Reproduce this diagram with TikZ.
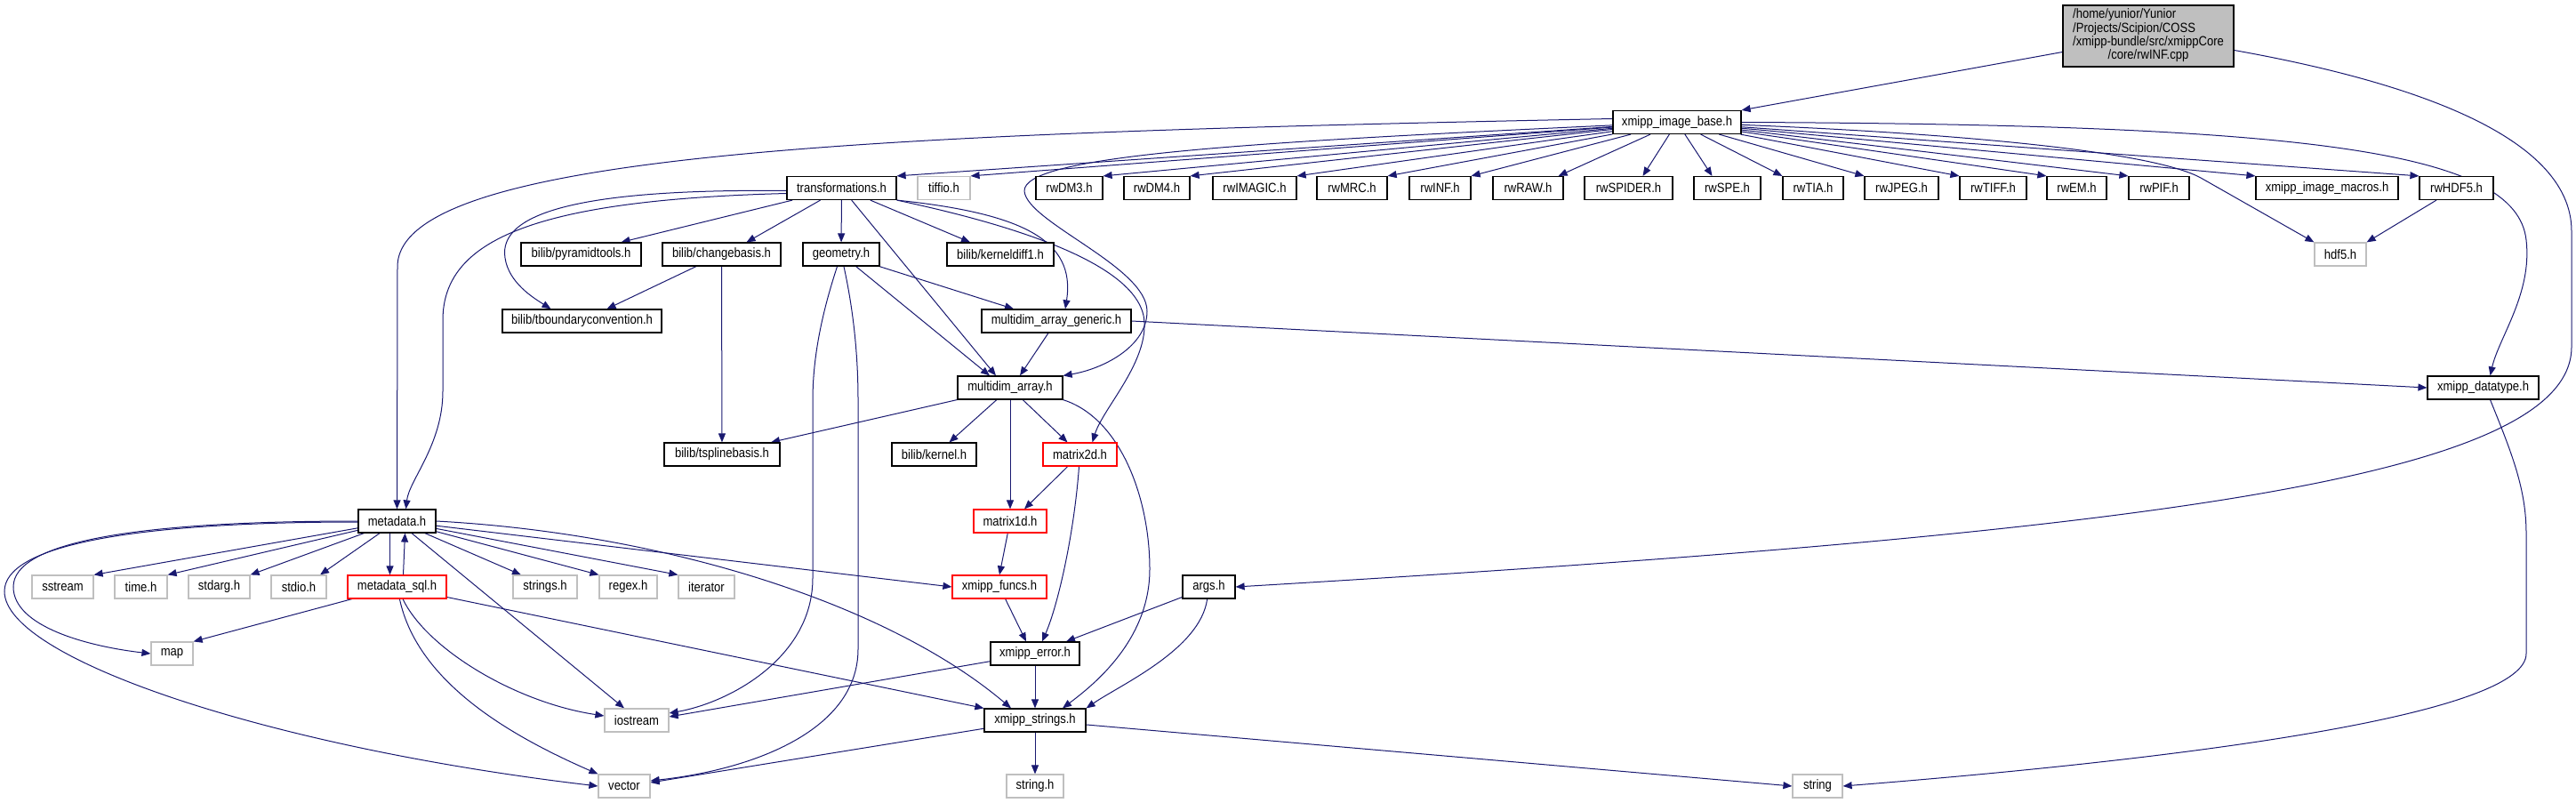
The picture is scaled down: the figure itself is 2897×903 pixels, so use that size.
\documentclass[tikz,border=0pt]{standalone}
\usepackage{fontspec}
\setmainfont{Liberation Sans}[FakeStretch=0.87]
\usetikzlibrary{arrows.meta,backgrounds}
\definecolor{edgeblue}{HTML}{191970}
\definecolor{extgray}{HTML}{BFBFBF}
\definecolor{cutred}{HTML}{FF0000}

\begin{document}
\begin{tikzpicture}[x=1bp, y=-1bp,
    hfile/.style={rectangle, draw=black, fill=white, line width=1.2bp, minimum height=26bp,
                  inner sep=1bp, font=\fontsize{15bp}{15bp}\selectfont},
    sysfile/.style={hfile, draw=extgray},
    cutfile/.style={hfile, draw=cutred},
    rootfile/.style={hfile, fill=extgray, minimum height=69bp},
    inc/.style={draw=edgeblue, line width=1bp, -{Triangle[length=10bp,width=8bp]}}
]
    \path[use as bounding box] (0,0) rectangle (2897,903);

    \node[rootfile, minimum width=192bp] (root) at (2416,40.5) {\begin{tabular}{@{}l@{}}/home/yunior/Yunior\\/Projects/Scipion/COSS\\/xmipp-bundle/src/xmippCore\\\multicolumn{1}{@{}c@{}}{/core/rwINF.cpp}\end{tabular}};
    \node[hfile, minimum width=144bp] (imgbase) at (1886,137.5) {xmipp\_image\_base.h};

    \node[hfile, minimum width=123bp] (trans) at (946.5,211.5) {transformations.h};
    \node[sysfile, minimum width=59bp] (tiffio) at (1061.5,211.5) {tiffio.h};
    \node[hfile, minimum width=75bp] (rwdm3) at (1202.5,211.5) {rwDM3.h};
    \node[hfile, minimum width=74bp] (rwdm4) at (1301,211.5) {rwDM4.h};
    \node[hfile, minimum width=94bp] (rwimagic) at (1411,211.5) {rwIMAGIC.h};
    \node[hfile, minimum width=79bp] (rwmrc) at (1520.5,211.5) {rwMRC.h};
    \node[hfile, minimum width=69bp] (rwinf) at (1619.5,211.5) {rwINF.h};
    \node[hfile, minimum width=79bp] (rwraw) at (1718.5,211.5) {rwRAW.h};
    \node[hfile, minimum width=99bp] (rwspider) at (1831.5,211.5) {rwSPIDER.h};
    \node[hfile, minimum width=75bp] (rwspe) at (1942.5,211.5) {rwSPE.h};
    \node[hfile, minimum width=68bp] (rwtia) at (2039,211.5) {rwTIA.h};
    \node[hfile, minimum width=83bp] (rwjpeg) at (2138.5,211.5) {rwJPEG.h};
    \node[hfile, minimum width=75bp] (rwtiff) at (2241.5,211.5) {rwTIFF.h};
    \node[hfile, minimum width=67bp] (rwem) at (2335.5,211.5) {rwEM.h};
    \node[hfile, minimum width=68bp] (rwpif) at (2428,211.5) {rwPIF.h};
    \node[hfile, minimum width=160bp] (macros) at (2617,211.5) {xmipp\_image\_macros.h};
    \node[hfile, minimum width=83bp] (rwhdf5) at (2762.5,211.5) {rwHDF5.h};

    \node[hfile, minimum width=135bp] (pyramid) at (653.5,286) {bilib/pyramidtools.h};
    \node[hfile, minimum width=133bp] (changebasis) at (811.5,286) {bilib/changebasis.h};
    \node[hfile, minimum width=86bp] (geometry) at (946,286) {geometry.h};
    \node[hfile, minimum width=120bp] (kerneldiff) at (1125,286) {bilib/kerneldiff1.h};
    \node[sysfile, minimum width=58bp] (hdf5) at (2632,286) {hdf5.h};

    \node[hfile, minimum width=179bp] (tboundary) at (654.5,361) {bilib/tboundaryconvention.h};
    \node[hfile, minimum width=168bp] (mdgeneric) at (1188,361) {multidim\_array\_generic.h};

    \node[hfile, minimum width=118bp] (mdarray) at (1136,436) {multidim\_array.h};
    \node[hfile, minimum width=125bp] (datatype) at (2792.5,436) {xmipp\_datatype.h};

    \node[hfile, minimum width=130bp] (tspline) at (812,511) {bilib/tsplinebasis.h};
    \node[hfile, minimum width=95bp] (kernel) at (1050.5,511) {bilib/kernel.h};
    \node[cutfile, minimum width=83bp] (matrix2d) at (1214.5,511) {matrix2d.h};

    \node[hfile, minimum width=87bp] (metadata) at (446.5,586) {metadata.h};
    \node[cutfile, minimum width=82bp] (matrix1d) at (1136,586) {matrix1d.h};

    \node[sysfile, minimum width=69bp] (sstream) at (70.5,660) {sstream};
    \node[sysfile, minimum width=59bp] (timeh) at (158.5,660) {time.h};
    \node[sysfile, minimum width=69bp] (stdarg) at (246.5,660) {stdarg.h};
    \node[sysfile, minimum width=62bp] (stdio) at (336,660) {stdio.h};
    \node[cutfile, minimum width=111bp] (mdsql) at (446.5,660) {metadata\_sql.h};
    \node[sysfile, minimum width=72bp] (strings) at (613,660) {strings.h};
    \node[sysfile, minimum width=65bp] (regex) at (706.5,660) {regex.h};
    \node[sysfile, minimum width=63bp] (iterator) at (794.5,660) {iterator};
    \node[cutfile, minimum width=106bp] (xfuncs) at (1124,660) {xmipp\_funcs.h};
    \node[hfile, minimum width=59bp] (args) at (1359.5,660) {args.h};

    \node[sysfile, minimum width=47bp] (map) at (193.5,735) {map};
    \node[hfile, minimum width=100bp] (error) at (1164,735) {xmipp\_error.h};

    \node[sysfile, minimum width=72bp] (iostream) at (716,810) {iostream};
    \node[hfile, minimum width=114bp] (xstrings) at (1164,810) {xmipp\_strings.h};

    \node[sysfile, minimum width=58bp] (vector) at (702,884) {vector};
    \node[sysfile, minimum width=64bp] (stringh) at (1164,884) {string.h};
    \node[sysfile, minimum width=56bp] (stdstring) at (2044,884) {string};

    \begin{scope}[on background layer]
    \draw[inc] ([yshift=-18bp]root.west) -- (imgbase.north east);
    \draw[inc] ([yshift=-16bp]root.east) .. controls (2700,90) and (2892,150) .. (2892,260) -- (2892,390) .. controls (2892,540) and (2400,600) .. (args.east);

    \draw[inc] ([yshift=4bp]imgbase.west) .. controls (1000,150) and (447,170) .. (447,300) -- (metadata.north);
    \draw[inc] (imgbase) -- (trans.north east);
    \draw[inc] (imgbase) -- (tiffio.north east);
    \draw[inc] (imgbase) -- (rwdm3.north east);
    \draw[inc] (imgbase) -- (rwdm4.north east);
    \draw[inc] (imgbase) -- (rwimagic.north east);
    \draw[inc] (imgbase) -- (rwmrc.north east);
    \draw[inc] (imgbase) -- (rwinf.north east);
    \draw[inc] (imgbase) -- ([xshift=-6bp]rwraw.north east);
    \draw[inc] (imgbase) -- ([xshift=16bp]rwspider.north);
    \draw[inc] (imgbase) -- ([xshift=-17bp]rwspe.north);
    \draw[inc] (imgbase) -- (rwtia.north west);
    \draw[inc] (imgbase) -- (rwjpeg.north west);
    \draw[inc] (imgbase) -- (rwtiff.north west);
    \draw[inc] (imgbase) -- (rwem.north west);
    \draw[inc] (imgbase) -- (rwpif.north west);
    \draw[inc] (imgbase) -- (macros.north west);
    \draw[inc] (imgbase) -- (rwhdf5.north west);
    \draw[inc] (imgbase) .. controls (2200,150) and (2420,170) .. (2475,200) -- (hdf5.north west);
    \draw[inc] (imgbase.east) .. controls (2600,140) and (2830,170) .. (2841,270) .. controls (2848,330) and (2810,380) .. ([xshift=8bp]datatype.north);
    \draw[inc] (imgbase) .. controls (1400,160) and (1150,175) .. (1152,215) .. controls (1155,250) and (1290,300) .. (1290,350) .. controls (1290,390) and (1240,415) .. (mdarray.north east);

    \draw[inc] ([yshift=-3bp]trans.west) .. controls (650,212) and (560,240) .. (568,290) .. controls (572,318) and (600,335) .. ([xshift=-35bp]tboundary.north);
    \draw[inc] ([yshift=-6bp]trans.west) .. controls (600,225) and (498,270) .. (498,360) -- (498,440) .. controls (498,500) and (460,540) .. ([xshift=10bp]metadata.north);
    \draw[inc] (trans) -- ([xshift=45bp]pyramid.north);
    \draw[inc] (trans) -- ([xshift=28bp]changebasis.north);
    \draw[inc] (trans) -- (geometry);
    \draw[inc] (trans) -- ([xshift=-16bp]mdarray.north);
    \draw[inc] (trans) -- ([xshift=-34bp]kerneldiff.north);
    \draw[inc] (trans.south east) .. controls (1150,240) and (1210,270) .. ([xshift=10bp]mdgeneric.north);
    \draw[inc] (trans.south east) .. controls (1150,255) and (1285,300) .. (1287,363) .. controls (1289,410) and (1240,460) .. ([xshift=14bp]matrix2d.north);

    \draw[inc] (changebasis) -- ([xshift=28bp]tboundary.north);
    \draw[inc] (changebasis) -- (tspline);
    \draw[inc] (rwhdf5) -- (hdf5.north east);

    \draw[inc] (geometry) -- ([xshift=-48bp]mdgeneric.north);
    \draw[inc] (geometry) -- ([xshift=-23bp]mdarray.north);
    \draw[inc] (geometry) .. controls (925,350) and (914,400) .. (914,450) -- (914,650) .. controls (914,740) and (820,790) .. ([yshift=8bp]iostream.east);
    \draw[inc] (geometry) .. controls (960,350) and (965,400) .. (965,450) -- (965,730) .. controls (965,820) and (850,865) .. ([yshift=6bp]vector.east);

    \draw[inc] (mdgeneric) -- ([xshift=11bp]mdarray.north);
    \draw[inc] (mdgeneric.east) -- (datatype.west);

    \draw[inc] (mdarray) -- ([xshift=55bp]tspline.north);
    \draw[inc] (mdarray) -- ([xshift=17bp]kernel.north);
    \draw[inc] (mdarray) -- (matrix1d);
    \draw[inc] (mdarray) -- ([xshift=-14bp]matrix2d.north);
    \draw[inc] (mdarray.south east) .. controls (1260,470) and (1293,560) .. (1293,640) .. controls (1293,720) and (1230,770) .. ([xshift=31bp]xstrings.north);

    \draw[inc] (matrix2d) -- ([xshift=16bp]matrix1d.north);
    \draw[inc] (matrix2d) .. controls (1208,600) and (1190,680) .. ([xshift=8bp]error.north);
    \draw[inc] (matrix1d) -- (xfuncs.north);

    \draw[inc] (metadata.west) .. controls (150,586) and (15,610) .. (15,660) .. controls (15,705) and (100,727) .. (map.west);
    \draw[inc] ([yshift=-1bp]metadata.west) .. controls (140,587) and (5,615) .. (5,665) .. controls (5,740) and (300,840) .. (vector.west);
    \draw[inc] (metadata) -- (sstream.north east);
    \draw[inc] (metadata) -- (timeh.north east);
    \draw[inc] (metadata) -- (stdarg.north east);
    \draw[inc] (metadata) -- ([xshift=24bp]stdio.north);
    \draw[inc] ([xshift=-8bp]metadata.south) -- ([xshift=-8bp]mdsql.north);
    \draw[inc] (metadata) -- ([xshift=-27bp]strings.north);
    \draw[inc] (metadata) -- (regex.north west);
    \draw[inc] (metadata) -- (iterator.north west);
    \draw[inc] (metadata) -- ([xshift=-14bp]iostream.north);
    \draw[inc] (metadata) -- (xfuncs.west);
    \draw[inc] (metadata.east) .. controls (750,600) and (1000,680) .. ([xshift=-27bp]xstrings.north);

    \draw[inc] ([xshift=7bp]mdsql.north) -- ([xshift=9bp]metadata.south);
    \draw[inc] (mdsql) -- (map.north east);
    \draw[inc] (mdsql) .. controls (480,730) and (580,790) .. ([yshift=5bp]iostream.west);
    \draw[inc] (mdsql) .. controls (470,770) and (580,830) .. (vector.north west);
    \draw[inc] (mdsql) -- (xstrings.north west);

    \draw[inc] (xfuncs) -- ([xshift=-10bp]error.north);
    \draw[inc] (args) -- ([xshift=35bp]error.north);
    \draw[inc] (args) .. controls (1350,730) and (1260,770) .. (xstrings.north east);

    \draw[inc] (error) -- (xstrings);
    \draw[inc] (error) -- ([yshift=4bp]iostream.east);
    \draw[inc] (xstrings) -- (stringh);
    \draw[inc] (xstrings) -- ([yshift=4bp]vector.east);
    \draw[inc] (xstrings) -- (stdstring.west);
    \draw[inc] ([xshift=8bp]datatype.south) .. controls (2825,510) and (2841,550) .. (2841,600) -- (2841,735) .. controls (2841,800) and (2500,850) .. (stdstring.east);
    \end{scope}
\end{tikzpicture}
\end{document}
